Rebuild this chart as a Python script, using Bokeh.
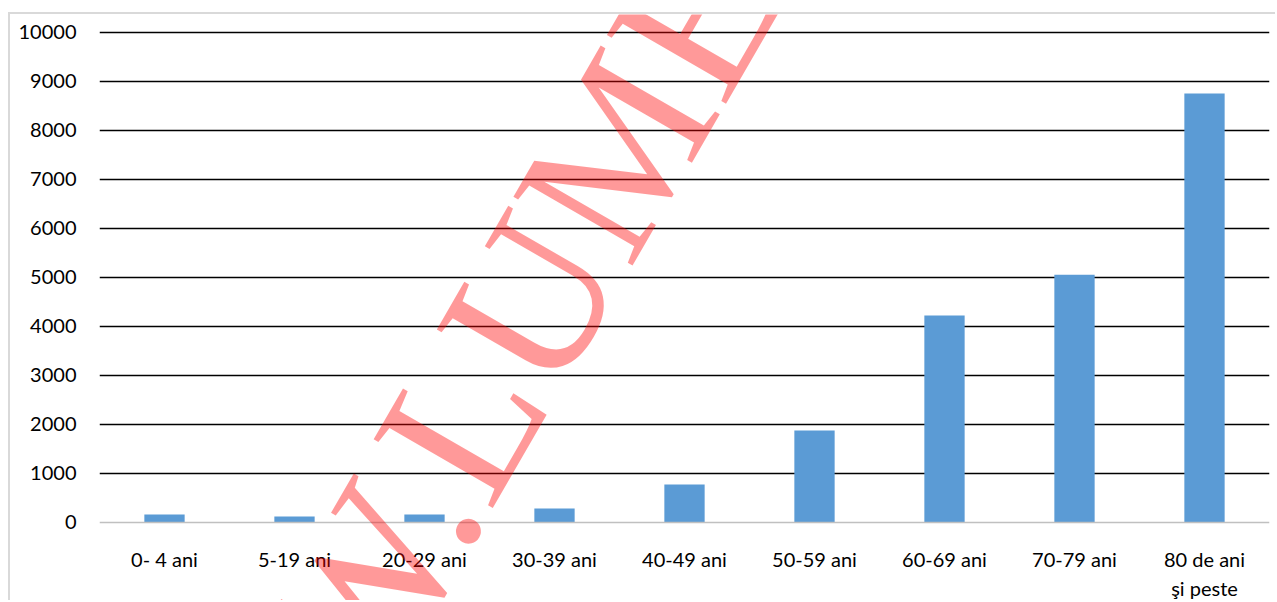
from bokeh.plotting import figure
from bokeh.models import ColumnDataSource, Range1d, FactorRange, FixedTicker, Label
from bokeh.embed import file_html
from bokeh.resources import INLINE

categories = ["0- 4 ani", "5-19 ani", "20-29 ani", "30-39 ani", "40-49 ani",
              "50-59 ani", "60-69 ani", "70-79 ani", "80 de ani\nşi peste"]
values = [157, 116, 157, 280, 770, 1870, 4220, 5050, 8750]
y_ticks = [0, 1000, 2000, 3000, 4000, 5000, 6000, 7000, 8000, 9000, 10000]
grid_ticks = y_ticks[1:]
watermark_text = "W.LUMEA"

source = ColumnDataSource(data=dict(cat=categories, val=values))

p = figure(width=1267, height=588, output_backend="svg", toolbar_location=None,
           x_range=FactorRange(factors=categories, range_padding=0),
           y_range=Range1d(-1639, 10363),
           min_border_left=89, min_border_right=8, min_border_top=0, min_border_bottom=0)
p.styles = {"margin-left": "8px", "margin-top": "12px",
            "border-top": "2px solid #d9d9d9", "border-left": "2px solid #d9d9d9"}

p.vbar(x="cat", top="val", width=0.31, source=source, fill_color="#5b9bd5", line_color=None)

p.outline_line_color = None
p.background_fill_color = "white"
p.border_fill_color = "white"

p.xgrid.grid_line_color = None
p.ygrid.ticker = FixedTicker(ticks=grid_ticks)
p.ygrid.grid_line_color = "#000000"
p.ygrid.grid_line_width = 1.6

p.yaxis.ticker = FixedTicker(ticks=y_ticks)
p.yaxis.axis_line_color = None
p.yaxis.major_tick_line_color = None
p.yaxis.minor_tick_line_color = None
p.yaxis.major_label_standoff = 17
p.yaxis.major_label_text_font = "Lato"
p.yaxis.major_label_text_font_size = "20px"
p.yaxis.major_label_text_color = "#000000"

p.xaxis.fixed_location = 0
p.xaxis.axis_line_color = "#c0c0c0"
p.xaxis.axis_line_width = 1.6
p.xaxis.major_tick_line_color = None
p.xaxis.minor_tick_line_color = None
p.xaxis.major_label_standoff = 19
p.xaxis.major_label_text_font = "Lato"
p.xaxis.major_label_text_font_size = "20px"
p.xaxis.major_label_text_color = "#000000"

wm = Label(x=1.638, y=-3182, text=watermark_text, angle=60, angle_units="deg",
           text_font="Liberation Serif", text_font_size="210px",
           text_color="#ff0000", text_alpha=0.4,
           text_align="left", text_baseline="alphabetic")
p.add_layout(wm)

open("out.html", "w").write(file_html(p, INLINE))
